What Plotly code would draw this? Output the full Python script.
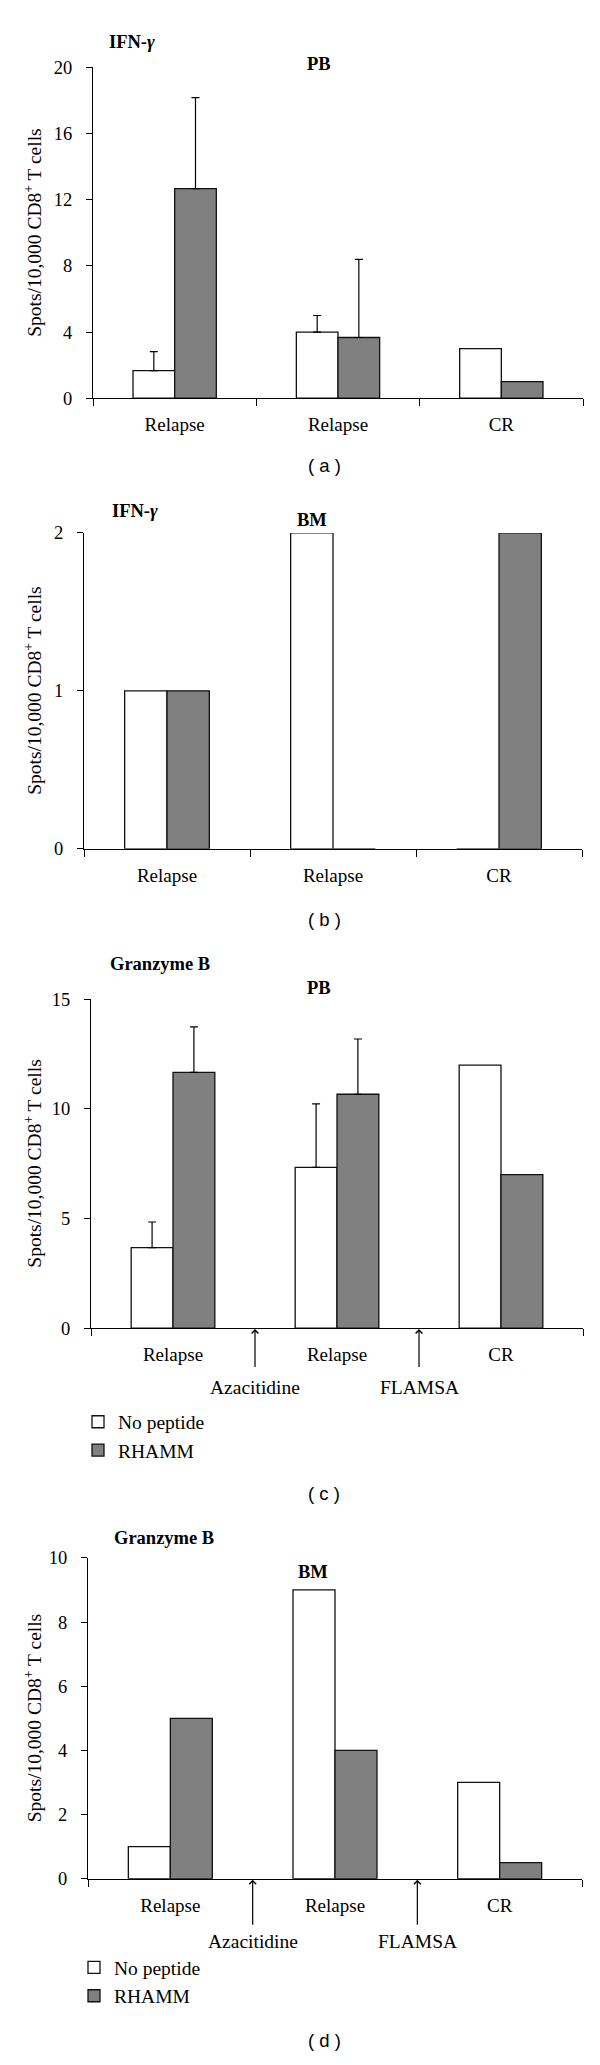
import numpy as np
import plotly.graph_objects as go

W, H = 600, 2065

categories = ["Relapse", "Relapse", "CR"]
series_names = ["No peptide", "RHAMM"]
treatments = ["Azacitidine", "FLAMSA"]

# (a) IFN-gamma, PB
a_nopep = [1.67, 4.0, 3.0]
a_nopep_err = [1.15, 1.0, None]
a_rhamm = [12.67, 3.67, 1.0]
a_rhamm_err = [5.5, 4.73, None]
# (b) IFN-gamma, BM
b_nopep = [1, 2, 0]
b_rhamm = [1, 0, 2]
# (c) Granzyme B, PB
c_nopep = [3.67, 7.33, 12.0]
c_nopep_err = [1.17, 2.9, None]
c_rhamm = [11.67, 10.67, 7.0]
c_rhamm_err = [2.07, 2.52, None]
# (d) Granzyme B, BM
d_nopep = [1, 9, 3]
d_rhamm = [5, 4, 0.5]


def fx(p):
    return p / W


def fy(p):
    return 1 - p / H


SERIF = "Liberation Serif"
SANS = "Liberation Sans"
GRAY = "#808080"
EDGE = "#111111"

panels = [
    dict(tag="a", x0=93, x1=583, top=58, bot=392, ymax=20, dtick=4,
         gene="<b>IFN-<i>γ</i></b>", gx=107, gy=32, site="<b>PB</b>", sx=319, sy=55,
         lab=460, nop=a_nopep, nop_err=a_nopep_err, rh=a_rhamm, rh_err=a_rhamm_err,
         arrows=None, legend=None),
    dict(tag="b", x0=84, x1=582, top=528, bot=847, ymax=2, dtick=1,
         gene="<b>IFN-<i>γ</i></b>", gx=110, gy=506, site="<b>BM</b>", sx=312, sy=515,
         lab=918, nop=b_nopep, nop_err=None, rh=b_rhamm, rh_err=None,
         arrows=None, legend=None),
    dict(tag="c", x0=91, x1=583, top=999, bot=1331, ymax=15, dtick=5,
         gene="<b>Granzyme B</b>", gx=108, gy=963, site="<b>PB</b>", sx=319, sy=988,
         lab=1498, nop=c_nopep, nop_err=c_nopep_err, rh=c_rhamm, rh_err=c_rhamm_err,
         arrows=dict(text=59, pad=9), legend=dict(name="legend", x=78, y=1440)),
    dict(tag="d", x0=88, x1=582, top=1563, bot=1887, ymax=10, dtick=2,
         gene="<b>Granzyme B</b>", gx=112, gy=1543, site="<b>BM</b>", sx=313, sy=1577,
         lab=2050, nop=d_nopep, nop_err=None, rh=d_rhamm, rh_err=None,
         arrows=dict(text=63, pad=6), legend=dict(name="legend2", x=74, y=1991)),
]

xs = list(range(len(categories)))
fig = go.Figure()
annotations = []
layout = {}


def err(vals):
    if vals is None:
        return None
    up = np.array([np.nan if v is None else v for v in vals], dtype=float)
    down = np.where(np.isnan(up), np.nan, 0.0)
    return dict(type="data", symmetric=False, array=up, arrayminus=down,
                color="black", thickness=1.2, width=4)


for i, p in enumerate(panels):
    n = "" if i == 0 else str(i + 1)
    xname, yname = "x" + n, "y" + n
    leg = p["legend"]
    for name, vals, errs, col in [(series_names[0], p["nop"], p["nop_err"], "white"),
                                  (series_names[1], p["rh"], p["rh_err"], GRAY)]:
        kw = dict(x=xs, y=vals, name=name, xaxis=xname, yaxis=yname,
                  marker=dict(color=col, line=dict(color=EDGE, width=1.3)),
                  showlegend=leg is not None)
        e = err(errs)
        if e is not None:
            kw["error_y"] = e
        if leg is not None:
            kw["legend"] = leg["name"]
        fig.add_trace(go.Bar(**kw))

    if p["arrows"] is None:
        minor_vals = [k - 0.5 for k in range(len(categories) + 1)]
    else:
        minor_vals = [-0.5, len(categories) - 0.5]

    layout["xaxis" + n] = dict(
        domain=[fx(p["x0"]), fx(p["x1"])], anchor=yname,
        range=[-0.5, len(categories) - 0.5],
        tickmode="array", tickvals=xs, ticktext=categories, ticks="",
        ticklabelstandoff=9,
        minor=dict(tickmode="array", tickvals=minor_vals, ticks="outside",
                   ticklen=7, tickwidth=1.2, tickcolor="black", showgrid=False),
        showline=True, linecolor="black", linewidth=1.3,
        showgrid=False, zeroline=False, fixedrange=True,
        tickfont=dict(family=SERIF, size=19, color="black"))
    layout["yaxis" + n] = dict(
        domain=[fy(p["bot"]), fy(p["top"])], anchor=xname,
        range=[0, p["ymax"]], tickmode="linear", tick0=0, dtick=p["dtick"],
        ticks="outside", ticklen=6, tickwidth=1.2, tickcolor="black",
        ticklabelstandoff=10,
        showline=True, linecolor="black", linewidth=1.3,
        showgrid=False, zeroline=False, fixedrange=True,
        tickfont=dict(family=SERIF, size=18.5, color="black"))

    # titles
    annotations.append(dict(text=p["gene"], x=fx(p["gx"]), y=fy(p["gy"]),
                            xref="paper", yref="paper", xanchor="left", yanchor="middle",
                            showarrow=False, font=dict(family=SERIF, size=18.5, color="black")))
    annotations.append(dict(text=p["site"], x=fx(p["sx"]), y=fy(p["sy"]),
                            xref="paper", yref="paper", xanchor="center", yanchor="middle",
                            showarrow=False, font=dict(family=SERIF, size=18.5, color="black")))
    # y-axis label
    annotations.append(dict(text="Spots/10,000 CD8<sup>+</sup> T cells",
                            x=fx(33), y=fy((p["top"] + p["bot"]) / 2),
                            xref="paper", yref="paper", xanchor="center", yanchor="middle",
                            textangle=-90, showarrow=False,
                            font=dict(family=SERIF, size=19.5, color="black")))
    # panel label
    annotations.append(dict(text="( %s )" % p["tag"], x=fx(324), y=fy(p["lab"]),
                            xref="paper", yref="paper", xanchor="center", yanchor="middle",
                            showarrow=False, font=dict(family=SANS, size=18.5, color="black")))
    # treatment arrows with their labels
    if p["arrows"] is not None:
        for k, t in enumerate(treatments):
            bx = k + 0.5
            annotations.append(dict(text=t, x=bx, y=0, xref=xname, yref=yname,
                                    showarrow=True, ax=0, ay=p["arrows"]["text"],
                                    borderpad=p["arrows"]["pad"],
                                    arrowhead=4, arrowsize=1.1, arrowwidth=1.2,
                                    arrowcolor="black", standoff=1,
                                    font=dict(family=SERIF, size=19.5, color="black")))
    if leg is not None:
        layout[leg["name"]] = dict(x=fx(leg["x"]), y=fy(leg["y"]), xanchor="left",
                                   yanchor="middle", orientation="v", traceorder="normal",
                                   bgcolor="rgba(0,0,0,0)", borderwidth=0,
                                   itemwidth=30, tracegroupgap=0,
                                   font=dict(family=SERIF, size=19.5, color="black"))

fig.update_layout(
    width=W, height=H, margin=dict(l=0, r=0, t=0, b=0),
    paper_bgcolor="white", plot_bgcolor="white",
    barmode="group", bargap=0.49, bargroupgap=0,
    annotations=annotations, **layout)

fig.write_html("out.html", config={"displayModeBar": False},
               post_script="document.body.style.margin='0';")
